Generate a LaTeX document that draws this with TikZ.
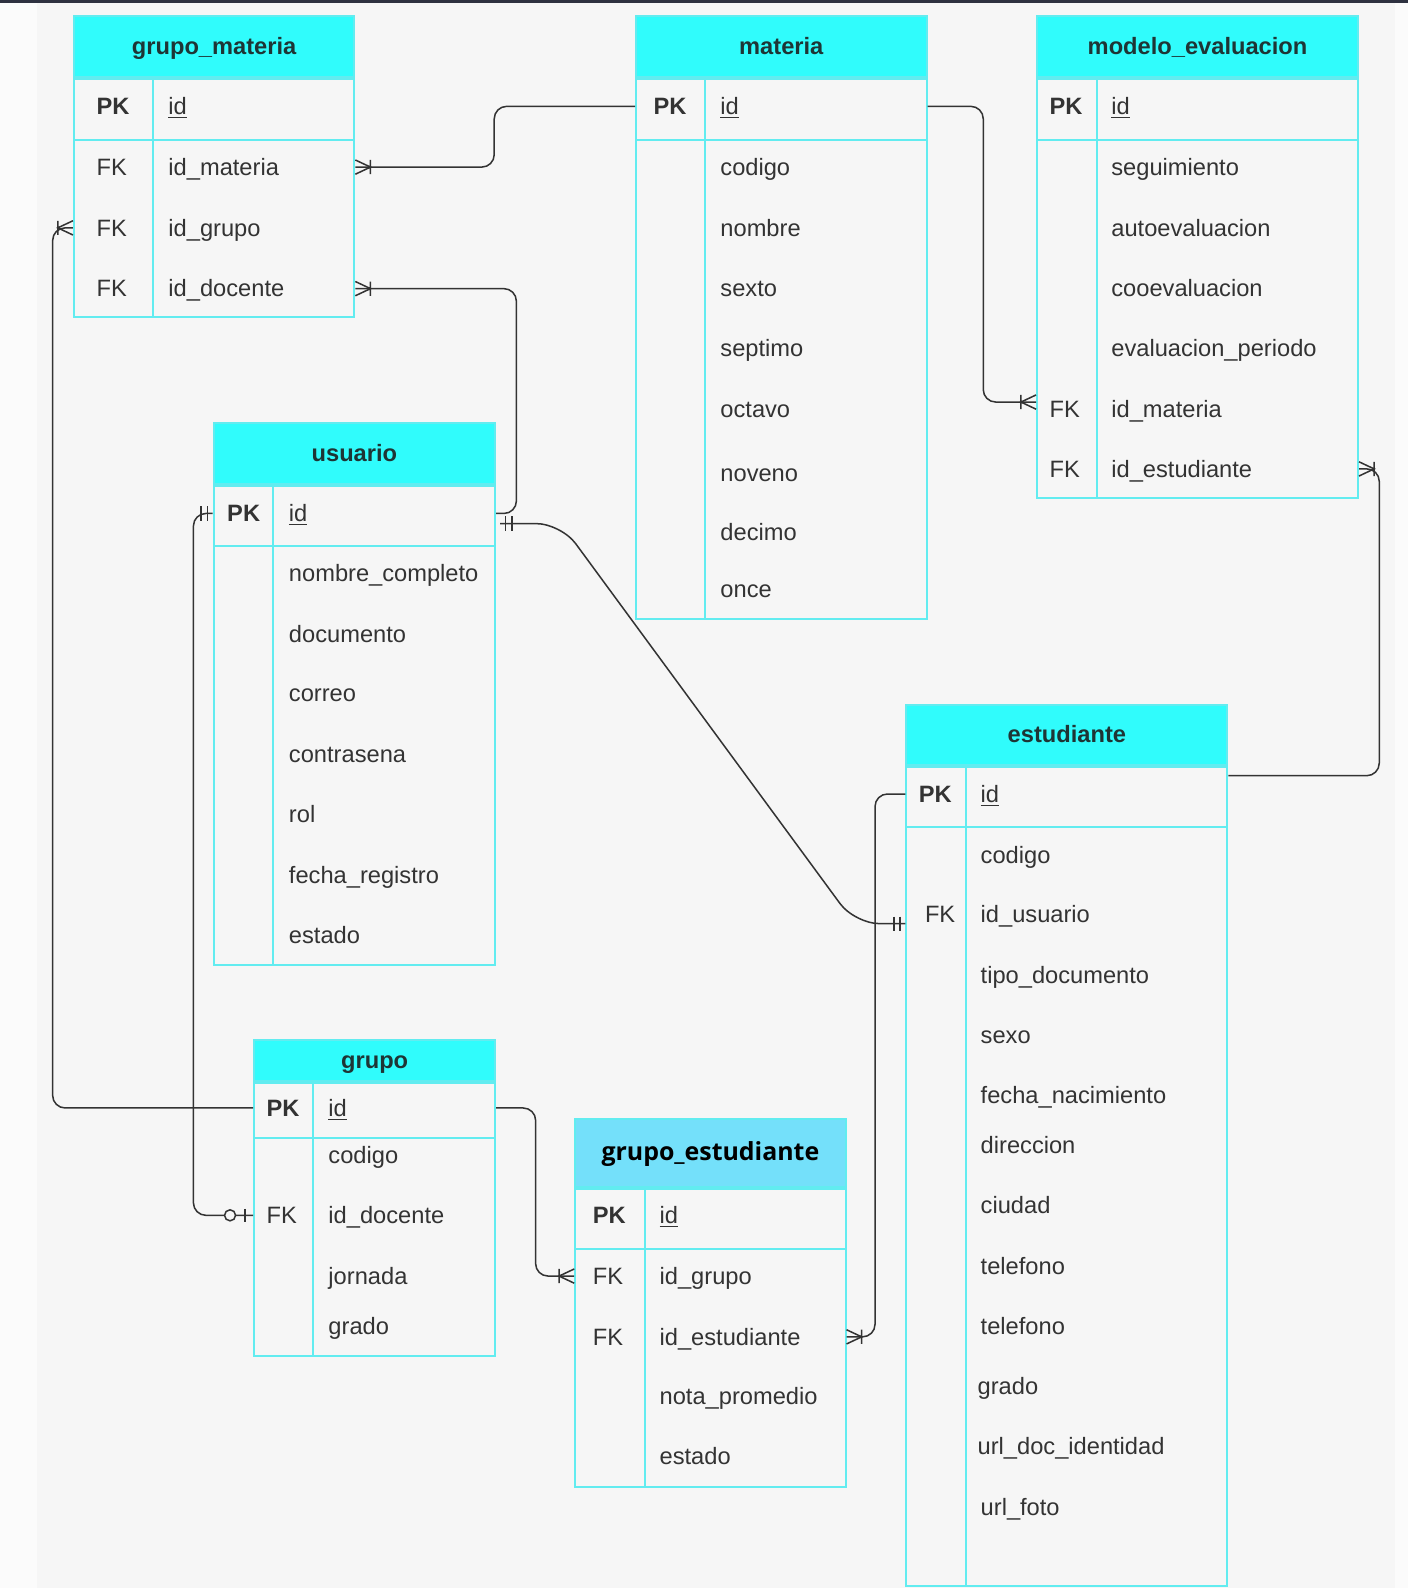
\documentclass[tikz,border=0pt]{standalone}
\usepackage{fontspec}
\setmainfont{Liberation Sans}
\newfontfamily\gefont{Open Sans}
\usetikzlibrary{calc}

\definecolor{pagebg}{HTML}{F6F6F6}
\definecolor{stripbg}{HTML}{FBFBFB}
\definecolor{topband}{HTML}{2E3140}
\definecolor{hdrcyan}{HTML}{30FCFC}
\definecolor{gehdr}{HTML}{74E0FA}
\definecolor{tblline}{HTML}{62ECF0}
\definecolor{fldtext}{HTML}{333333}
\definecolor{hdrtext}{HTML}{1E3535}
\definecolor{relline}{HTML}{333333}

% crow's foot ends
\pgfdeclarearrow{
  name = ermany,
  setup code = {
    \pgfarrowssettipend{0pt}
    \pgfarrowssetbackend{-8.5pt}
    \pgfarrowssetlineend{0pt}
    \pgfarrowshullpoint{0pt}{4pt}
    \pgfarrowshullpoint{0pt}{-4pt}
    \pgfarrowshullpoint{-8.5pt}{4pt}
    \pgfarrowshullpoint{-8.5pt}{-4pt}
  },
  drawing code = {
    \pgfsetlinewidth{0.85pt}
    \pgfsetdash{}{0pt}
    \pgfpathmoveto{\pgfqpoint{0pt}{4pt}}
    \pgfpathlineto{\pgfqpoint{-8.5pt}{0pt}}
    \pgfpathlineto{\pgfqpoint{0pt}{-4pt}}
    \pgfpathmoveto{\pgfqpoint{-8.5pt}{4pt}}
    \pgfpathlineto{\pgfqpoint{-8.5pt}{-4pt}}
    \pgfusepathqstroke
  }
}
\pgfdeclarearrow{
  name = erone,
  setup code = {
    \pgfarrowssettipend{0pt}
    \pgfarrowssetbackend{-7pt}
    \pgfarrowssetlineend{0pt}
    \pgfarrowshullpoint{0pt}{4pt}
    \pgfarrowshullpoint{-7pt}{-4pt}
  },
  drawing code = {
    \pgfsetlinewidth{0.9pt}
    \pgfsetdash{}{0pt}
    \pgfpathmoveto{\pgfqpoint{-3pt}{4pt}}
    \pgfpathlineto{\pgfqpoint{-3pt}{-4pt}}
    \pgfpathmoveto{\pgfqpoint{-6.5pt}{4pt}}
    \pgfpathlineto{\pgfqpoint{-6.5pt}{-4pt}}
    \pgfusepathqstroke
  }
}
\pgfdeclarearrow{
  name = erzeroone,
  setup code = {
    \pgfarrowssettipend{0pt}
    \pgfarrowssetbackend{-16.5pt}
    \pgfarrowssetlineend{0pt}
    \pgfarrowshullpoint{0pt}{3.6pt}
    \pgfarrowshullpoint{-16.5pt}{-3.6pt}
  },
  drawing code = {
    \pgfsetlinewidth{0.85pt}
    \pgfsetdash{}{0pt}
    \pgfpathmoveto{\pgfqpoint{-4.5pt}{3.6pt}}
    \pgfpathlineto{\pgfqpoint{-4.5pt}{-3.6pt}}
    \pgfusepathqstroke
    \pgfsetfillcolor{pagebg}
    \pgfpathcircle{\pgfqpoint{-13pt}{0pt}}{3.1pt}
    \pgfusepathqfillstroke
  }
}

\begin{document}
\begin{tikzpicture}[
    x=0.02cm, y=-0.02cm,
    entity/.style={
        rectangle,
        draw=tblline,
        line width=1.1pt,
        fill=pagebg,
        anchor=north west,
        inner sep=0pt
    },
    entityhead/.style={
        rectangle,
        draw=tblline,
        line width=1.1pt,
        fill=hdrcyan,
        anchor=north west,
        inner sep=0pt,
        minimum height=1.2cm,
        text=hdrtext,
        text height=2.1ex,
        text depth=0.45ex,
        font=\fontsize{13.3}{16}\selectfont\bfseries
    },
    pkrow/.style={
        rectangle,
        draw=tblline,
        line width=1.1pt,
        anchor=north west,
        inner sep=0pt,
        minimum height=1.2cm
    },
    fieldcell/.style={
        anchor=west,
        inner sep=0pt,
        text=fldtext,
        text height=2.2ex,
        text depth=0.45ex,
        font=\fontsize{13.3}{16}\selectfont
    },
    keycell/.style={fieldcell},
    pkcell/.style={fieldcell, font=\fontsize{13.3}{16}\selectfont\bfseries},
    divline/.style={draw=tblline, line width=1.1pt},
    rel/.style={draw=relline, line width=0.85pt, rounded corners=7pt}
]

% page
\useasboundingbox (0,0) rectangle (1390,1568);
\fill[pagebg] (0,0) rectangle (1390,1568);
\fill[stripbg] (0,0) rectangle (37,1568);
\fill[stripbg] (1377,0) rectangle (1390,1568);
\fill[topband] (0,0) rectangle (1390,3);

% grupo_materia
\node[entity, minimum width=5.54cm, minimum height=5.94cm] (gm) at (72,15) {};
\node[entityhead, minimum width=5.54cm] (gm-h) at (72,15) {grupo\_materia};
\node[pkrow, minimum width=5.54cm] (gm-pkr) at (gm-h.south west) {};
\draw[divline] ([xshift=1.58cm]gm-pkr.north west) -- ([xshift=1.58cm]gm.south west);
\node[pkcell] (gm-pk) at (95,105) {PK};
\node[fieldcell] (gm-id) at (166,105) {\underline{id}};
\node[keycell] (gm-fk1) at (95,165) {FK};
\node[fieldcell] (gm-idmat) at (166,165) {id\_materia};
\node[keycell] (gm-fk2) at (95,225) {FK};
\node[fieldcell] (gm-idgrp) at (166,225) {id\_grupo};
\node[keycell] (gm-fk3) at (95,285) {FK};
\node[fieldcell] (gm-iddoc) at (166,285) {id\_docente};

% materia
\node[entity, minimum width=5.74cm, minimum height=11.9cm] (mat) at (627,15) {};
\node[entityhead, minimum width=5.74cm] (mat-h) at (627,15) {materia};
\node[pkrow, minimum width=5.74cm] (mat-pkr) at (mat-h.south west) {};
\draw[divline] ([xshift=1.38cm]mat-pkr.north west) -- ([xshift=1.38cm]mat.south west);
\node[pkcell] (mat-pk) at (645,105) {PK};
\node[fieldcell] (mat-id) at (711,105) {\underline{id}};
\node[fieldcell] (mat-cod) at (711,165) {codigo};
\node[fieldcell] (mat-nom) at (711,225) {nombre};
\node[fieldcell] (mat-sex) at (711,285) {sexto};
\node[fieldcell] (mat-sep) at (711,344) {septimo};
\node[fieldcell] (mat-oct) at (711,404) {octavo};
\node[fieldcell] (mat-nov) at (711,467) {noveno};
\node[fieldcell] (mat-dec) at (711,526) {decimo};
\node[fieldcell] (mat-onc) at (711,582) {once};

% modelo_evaluacion
\node[entity, minimum width=6.34cm, minimum height=9.52cm] (me) at (1023,15) {};
\node[entityhead, minimum width=6.34cm] (me-h) at (1023,15) {modelo\_evaluacion};
\node[pkrow, minimum width=6.34cm] (me-pkr) at (me-h.south west) {};
\draw[divline] ([xshift=1.2cm]me-pkr.north west) -- ([xshift=1.2cm]me.south west);
\node[pkcell] (me-pk) at (1036,105) {PK};
\node[fieldcell] (me-id) at (1097,105) {\underline{id}};
\node[fieldcell] (me-seg) at (1097,165) {seguimiento};
\node[fieldcell] (me-auto) at (1097,225) {autoevaluacion};
\node[fieldcell] (me-coo) at (1097,285) {cooevaluacion};
\node[fieldcell] (me-per) at (1097,344) {evaluacion\_periodo};
\node[keycell] (me-fk1) at (1036,404) {FK};
\node[fieldcell] (me-idmat) at (1097,404) {id\_materia};
\node[keycell] (me-fk2) at (1036,463) {FK};
\node[fieldcell] (me-idest) at (1097,463) {id\_estudiante};

% usuario
\node[entity, minimum width=5.56cm, minimum height=10.7cm] (usr) at (210,417) {};
\node[entityhead, minimum width=5.56cm] (usr-h) at (210,417) {usuario};
\node[pkrow, minimum width=5.56cm, minimum height=1.18cm] (usr-pkr) at (usr-h.south west) {};
\draw[divline] ([xshift=1.2cm]usr-pkr.north west) -- ([xshift=1.2cm]usr.south west);
\node[pkcell] (usr-pk) at (224,507) {PK};
\node[fieldcell] (usr-id) at (285,507) {\underline{id}};
\node[fieldcell] (usr-nom) at (285,566) {nombre\_completo};
\node[fieldcell] (usr-doc) at (285,626) {documento};
\node[fieldcell] (usr-cor) at (285,685) {correo};
\node[fieldcell] (usr-con) at (285,745) {contrasena};
\node[fieldcell] (usr-rol) at (285,804) {rol};
\node[fieldcell] (usr-fec) at (285,864) {fecha\_registro};
\node[fieldcell] (usr-est) at (285,923) {estado};

% grupo
\node[entity, minimum width=4.76cm, minimum height=6.24cm] (grp) at (250,1026) {};
\node[entityhead, minimum width=4.76cm, minimum height=0.8cm] (grp-h) at (250,1026) {grupo};
\node[pkrow, minimum width=4.76cm, minimum height=1.1cm] (grp-pkr) at (grp-h.south west) {};
\draw[divline] ([xshift=1.18cm]grp-pkr.north west) -- ([xshift=1.18cm]grp.south west);
\node[pkcell] (grp-pk) at (263,1094) {PK};
\node[fieldcell] (grp-id) at (324,1094) {\underline{id}};
\node[fieldcell] (grp-cod) at (324,1141) {codigo};
\node[keycell] (grp-fk) at (263,1200) {FK};
\node[fieldcell] (grp-iddoc) at (324,1200) {id\_docente};
\node[fieldcell] (grp-jor) at (324,1260) {jornada};
\node[fieldcell] (grp-gra) at (324,1310) {grado};

% grupo_estudiante
\node[entity, minimum width=5.34cm, minimum height=7.26cm] (ge) at (567,1104) {};
\node[entityhead, minimum width=5.34cm, minimum height=1.34cm, fill=gehdr, text=black,
    font=\gefont\fontsize{14}{17}\selectfont\bfseries] (ge-h) at (567,1104) {grupo\_estudiante};
\node[pkrow, minimum width=5.34cm, minimum height=1.18cm] (ge-pkr) at (ge-h.south west) {};
\draw[divline] ([xshift=1.4cm]ge-pkr.north west) -- ([xshift=1.4cm]ge.south west);
\node[pkcell] (ge-pk) at (585,1200) {PK};
\node[fieldcell] (ge-id) at (651,1200) {\underline{id}};
\node[keycell] (ge-fk1) at (585,1260) {FK};
\node[fieldcell] (ge-idgrp) at (651,1260) {id\_grupo};
\node[keycell] (ge-fk2) at (585,1320) {FK};
\node[fieldcell] (ge-idest) at (651,1320) {id\_estudiante};
\node[fieldcell] (ge-nota) at (651,1379) {nota\_promedio};
\node[fieldcell] (ge-est) at (651,1438) {estado};

% estudiante
\node[entity, minimum width=6.34cm, minimum height=17.4cm] (est) at (894,695) {};
\node[entityhead, minimum width=6.34cm, minimum height=1.18cm] (est-h) at (894,695) {estudiante};
\node[pkrow, minimum width=6.34cm] (est-pkr) at (est-h.south west) {};
\draw[divline] ([xshift=1.2cm]est-pkr.north west) -- ([xshift=1.2cm]est.south west);
\node[pkcell] (est-pk) at (907,784) {PK};
\node[fieldcell] (est-id) at (968,784) {\underline{id}};
\node[fieldcell] (est-cod) at (968,844) {codigo};
\node[keycell] (est-fk) at (913,903) {FK};
\node[fieldcell] (est-idusr) at (968,903) {id\_usuario};
\node[fieldcell] (est-tipo) at (968,963) {tipo\_documento};
\node[fieldcell] (est-sexo) at (968,1022) {sexo};
\node[fieldcell] (est-nac) at (968,1081) {fecha\_nacimiento};
\node[fieldcell] (est-dir) at (968,1131) {direccion};
\node[fieldcell] (est-ciu) at (968,1190) {ciudad};
\node[fieldcell] (est-tel1) at (968,1250) {telefono};
\node[fieldcell] (est-tel2) at (968,1310) {telefono};
\node[fieldcell] (est-gra) at (965,1369) {grado};
\node[fieldcell] (est-url1) at (965,1428) {url\_doc\_identidad};
\node[fieldcell] (est-url2) at (968,1488) {url\_foto};

% relations
\draw[rel, -ermany] (mat.west |- mat-id) -- ++(-139,0) |- (gm.east |- gm-idmat);
\draw[rel, -ermany] (usr.east |- usr-id) -- ++(20,0) |- (gm.east |- gm-iddoc);
\draw[rel, rounded corners=14pt, erone-erone] ($(usr.east |- usr-id)+(4,10)$) -- ++(60,0)
    -- ($(est.west |- est-idusr)+(-50,9)$) -- ($(est.west |- est-idusr)+(0,9)$);
\draw[rel, -ermany] (grp.west |- grp-id) -- ++(-198,0) |- (gm.west |- gm-idgrp);
\draw[rel, erone-erzeroone] (usr.west |- usr-id) -- ++(-19,0) |- (grp.west |- grp-iddoc);
\draw[rel, -ermany] (grp.east |- grp-id) -- ++(39,0) |- (ge.west |- ge-idgrp);
\draw[rel, -ermany] (est.west |- est-id) -- ++(-30,0) |- (ge.east |- ge-idest);
\draw[rel, -ermany] (mat.east |- mat-id) -- ++(55,0) |- ($(me.west |- me-idmat)+(0,-7)$);
\draw[rel, -ermany] ($(est.east |- est-h.south)+(0,10)$) -- ++(149,0) |- (me.east |- me-idest);

\end{tikzpicture}
\end{document}
